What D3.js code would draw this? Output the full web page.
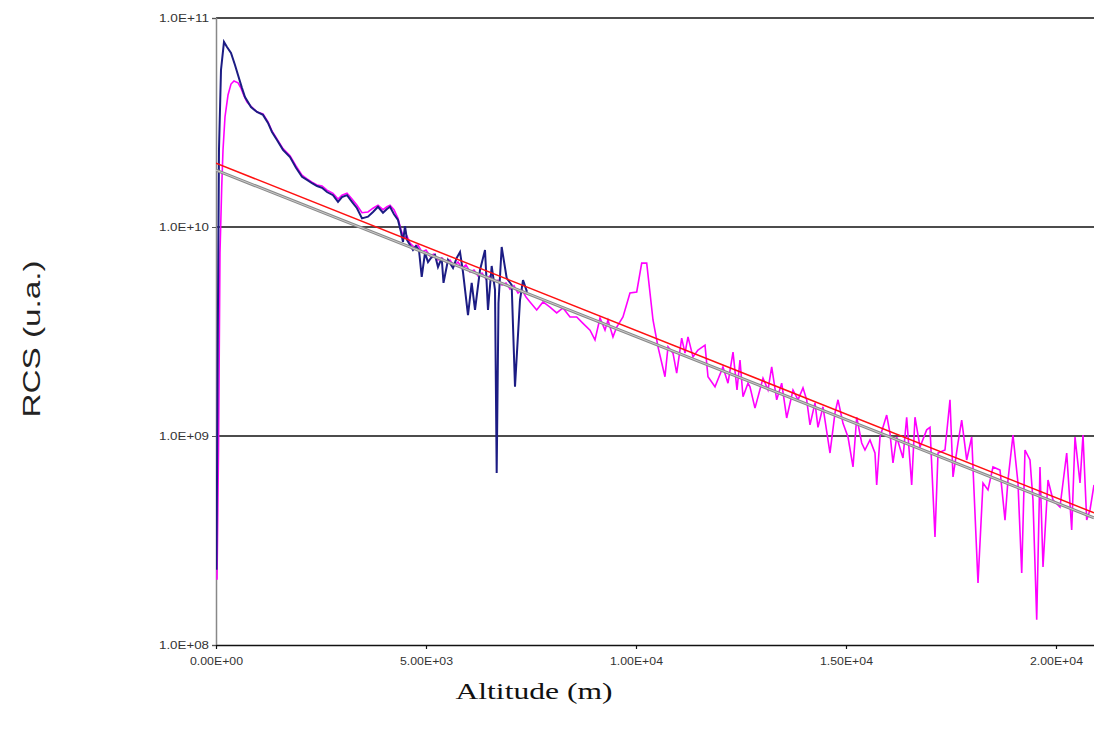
<!DOCTYPE html>
<html>
<head>
<meta charset="utf-8">
<script src="https://cdn.jsdelivr.net/npm/d3@7"></script>
<style>
  body { margin: 0; background: #fff; }
</style>
</head>
<body>
<script>
// ---------------------- data ----------------------
var xTicks = [0, 5000, 10000, 15000, 20000];
var yTicks = [1e8, 1e9, 1e10, 1e11];

// navy profile: altitude (m), RCS (u.a.)
var navyAlt = [12, 48, 71, 119, 190, 262, 357, 452, 524, 619, 690, 833, 976, 1119, 1238, 1333, 1452, 1595, 1762, 1905,
  2048, 2167, 2286, 2405, 2524, 2643, 2786, 2905, 3000, 3119, 3238, 3357, 3476, 3619, 3738, 3857, 3976, 4071, 4143, 4238,
  4333, 4405, 4452, 4500, 4548, 4619, 4690, 4762, 4833, 4898, 4976, 5048, 5119, 5214, 5286, 5374, 5417, 5524, 5643, 5731,
  5810, 5881, 6000, 6088, 6167, 6286, 6405, 6476, 6564, 6643, 6683, 6726, 6802, 6921, 7040, 7119, 7238, 7310, 7405];
var navyRcs = [2.29e8, 4.47e9, 2.34e10, 5.64e10, 7.68e10, 7.26e10, 6.80e10, 5.96e10, 5.34e10, 4.62e10, 4.19e10, 3.75e10, 3.55e10, 3.44e10, 3.15e10, 2.85e10, 2.61e10, 2.34e10, 2.16e10, 1.92e10,
  1.74e10, 1.68e10, 1.62e10, 1.57e10, 1.54e10, 1.47e10, 1.42e10, 1.32e10, 1.39e10, 1.42e10, 1.32e10, 1.23e10, 1.10e10, 1.12e10, 1.18e10, 1.25e10, 1.17e10, 1.22e10, 1.25e10, 1.15e10,
  1.08e10, 9.46e9, 8.48e9, 1.01e10, 8.67e9, 8.20e9, 7.76e9, 8.11e9, 7.76e9, 5.77e9, 7.51e9, 6.80e9, 7.11e9, 7.35e9, 6.44e9, 7.11e9, 5.40e9, 6.95e9, 6.37e9, 7.11e9,
  7.59e9, 6.09e9, 3.79e9, 5.40e9, 4.01e9, 6.23e9, 7.76e9, 4.01e9, 6.51e9, 5.00e9, 6.65e8, 4.33e9, 8.02e9, 5.70e9, 5.28e9, 1.72e9, 4.47e9, 5.57e9, 4.89e9];

// magenta profile: altitude (m), RCS (u.a.)
var magAlt = [24, 60, 95, 136, 167, 214, 286, 357, 429, 524, 595, 667, 738, 833, 976, 1119, 1238, 1333, 1452, 1595,
  1762, 1905, 2048, 2167, 2286, 2405, 2524, 2643, 2786, 2905, 3000, 3119, 3238, 3357, 3476, 3619, 3738, 3857, 3976, 4071,
  4143, 4238, 4333, 4405, 4476, 4548, 4619, 4714, 4810, 4905, 5000, 5095, 5191, 5286, 5381, 5476, 5571, 5667, 5762, 5857,
  5952, 6048, 6143, 6238, 6333, 6429, 6524, 6619, 6714, 6810, 6905, 7000, 7095, 7190, 7286, 7381, 7476, 7636, 7786, 7952,
  8112, 8262, 8429, 8588, 8738, 8905, 9024, 9143, 9262, 9333, 9452, 9541, 9690, 9857, 10017, 10136, 10255, 10405, 10524, 10690,
  10762, 10881, 10969, 11088, 11167, 11238, 11357, 11476, 11643, 11714, 11881, 12071, 12190, 12310, 12405, 12476, 12548, 12667, 12714, 12833,
  13024, 13143, 13231, 13350, 13469, 13588, 13738, 13857, 13976, 14064, 14143, 14262, 14333, 14452, 14619, 14738, 14810, 14929, 15048, 15167,
  15255, 15374, 15452, 15571, 15690, 15731, 15810, 15969, 16048, 16119, 16207, 16357, 16445, 16564, 16643, 16762, 16921, 17000, 17119, 17191,
  17357, 17476, 17548, 17667, 17755, 17874, 17993, 18143, 18262, 18381, 18500, 18667, 18786, 18857, 18976, 19095, 19184, 19262, 19381, 19452,
  19541, 19619, 19691, 19810, 19929, 20095, 20255, 20374, 20453, 20572, 20643, 20731, 20810, 20905];
var magRcs = [2.05e8, 8.57e8, 7.51e9, 1.55e10, 2.34e10, 3.36e10, 4.28e10, 4.83e10, 5.00e10, 4.90e10, 4.62e10, 4.24e10, 3.96e10, 3.78e10, 3.55e10, 3.48e10, 3.18e10, 2.88e10, 2.64e10, 2.37e10,
  2.19e10, 1.96e10, 1.77e10, 1.70e10, 1.64e10, 1.59e10, 1.57e10, 1.50e10, 1.45e10, 1.36e10, 1.42e10, 1.45e10, 1.36e10, 1.27e10, 1.17e10, 1.18e10, 1.23e10, 1.27e10, 1.21e10, 1.25e10,
  1.27e10, 1.21e10, 1.10e10, 9.68e9, 8.86e9, 9.05e9, 8.38e9, 8.02e9, 8.20e9, 7.59e9, 7.76e9, 7.26e9, 7.43e9, 6.95e9, 7.11e9, 6.80e9, 6.95e9, 6.51e9, 6.80e9, 6.37e9,
  6.59e9, 6.09e9, 6.23e9, 5.83e9, 6.02e9, 5.64e9, 5.83e9, 5.46e9, 5.57e9, 5.28e9, 5.40e9, 5.05e9, 5.23e9, 4.83e9, 5.00e9, 4.62e9, 4.38e9, 4.01e9, 4.38e9, 4.14e9,
  3.88e9, 4.10e9, 3.71e9, 3.71e9, 3.46e9, 3.21e9, 2.88e9, 3.67e9, 3.21e9, 3.59e9, 2.98e9, 3.32e9, 3.71e9, 4.83e9, 4.89e9, 6.72e9, 6.72e9, 3.59e9, 2.67e9, 1.92e9,
  2.67e9, 2.49e9, 2.00e9, 2.94e9, 2.49e9, 2.98e9, 2.39e9, 2.58e9, 2.72e9, 1.92e9, 1.72e9, 2.14e9, 1.79e9, 2.52e9, 1.66e9, 2.31e9, 1.54e9, 1.79e9, 1.72e9, 1.36e9,
  1.89e9, 1.66e9, 2.14e9, 1.49e9, 1.79e9, 1.22e9, 1.66e9, 1.49e9, 1.70e9, 1.49e9, 1.13e9, 1.44e9, 1.10e9, 1.38e9, 8.29e8, 1.29e9, 1.49e9, 1.15e9, 9.89e8, 7.11e8,
  1.23e9, 9.26e8, 8.57e8, 9.57e8, 8.29e8, 5.83e8, 9.89e8, 1.26e9, 1.03e9, 7.43e8, 9.89e8, 7.85e8, 1.23e9, 5.83e8, 1.23e9, 8.86e8, 1.07e9, 1.10e9, 3.29e8, 8.29e8,
  8.57e8, 1.49e9, 6.37e8, 9.26e8, 1.19e9, 7.68e8, 9.89e8, 1.98e8, 5.96e8, 5.52e8, 7.11e8, 6.88e8, 3.96e8, 6.16e8, 1.01e9, 5.96e8, 2.21e8, 8.57e8, 7.68e8, 4.94e8,
  1.32e8, 7.11e8, 2.36e8, 6.16e8, 4.94e8, 4.57e8, 8.29e8, 3.55e8, 9.89e8, 5.96e8, 1.01e9, 3.96e8, 4.43e8, 5.83e8];

// exponential fits (straight on log axis)
var fitAlt = [0, 20905];
var redFit = [2.02e10, 4.29e8];
var grayFit = [1.87e10, 4.06e8];

// ---------------------- layout ----------------------
var W = 1094, H = 733;
var plotLeft = 216, plotRight = 1094, plotTop = 18, plotBottom = 645;

var svg = d3.select("body")
     .append("svg")
     .attr("width", W)
     .attr("height", H)
     .style("font-family", "'Liberation Sans', Arial, sans-serif");

var x = d3.scaleLinear().domain([0, 20905]).range([plotLeft, plotRight]);
var y = d3.scaleLog().domain([1e8, 1e11]).range([plotBottom, plotTop]);

function expLabel(v, digits) {
  var s = v.toExponential(digits).toUpperCase();
  var parts = s.split("E");
  var sign = parts[1].charAt(0);
  var ex = parts[1].slice(1);
  if (ex.length < 2) ex = "0" + ex;
  return parts[0] + "E" + sign + ex;
}

svg.append("clipPath").attr("id", "plot")
     .append("rect")
     .attr("x", plotLeft).attr("y", 0)
     .attr("width", plotRight - plotLeft).attr("height", plotBottom + 2);

// horizontal gridlines
svg.append("g").selectAll("line")
     .data(yTicks.slice(1))
     .enter()
     .append("line")
     .attr("x1", plotLeft).attr("x2", plotRight)
     .attr("y1", function(d) { return y(d); })
     .attr("y2", function(d) { return y(d); })
     .attr("stroke", "#111")
     .attr("stroke-width", 1.5);

// left axis
var yAxis = svg.append("g")
     .attr("transform", "translate(" + plotLeft + ",0)")
     .call(d3.axisLeft(y).tickValues(yTicks).tickSize(4).tickFormat(function(d) { return expLabel(d, 1); }));
yAxis.select(".domain").attr("stroke", "#888").attr("stroke-width", 1.5);
yAxis.selectAll(".tick line").attr("stroke", "#555");
yAxis.selectAll(".tick text")
     .attr("x", -7)
     .attr("dy", "0.35em")
     .attr("fill", "#333")
     .style("font-size", "10px")
     .attr("textLength", 50)
     .attr("lengthAdjust", "spacingAndGlyphs");

// bottom axis
var xAxis = svg.append("g")
     .attr("transform", "translate(0," + plotBottom + ")")
     .call(d3.axisBottom(x).tickValues(xTicks).tickSize(4).tickSizeOuter(0).tickFormat(function(d) { return expLabel(d, 2); }));
xAxis.select(".domain").attr("stroke", "#111").attr("stroke-width", 1.5);
xAxis.selectAll(".tick line").attr("stroke", "#111").attr("stroke-width", 1.2);
xAxis.selectAll(".tick text")
     .attr("y", 13)
     .attr("fill", "#333")
     .style("font-size", "10px")
     .attr("textLength", 53)
     .attr("lengthAdjust", "spacingAndGlyphs");

// ---------------------- series ----------------------
var line = d3.line()
     .x(function(d) { return x(d[0]); })
     .y(function(d) { return y(d[1]); });

var plot = svg.append("g").attr("clip-path", "url(#plot)");

plot.append("path")
     .attr("d", line(d3.zip(magAlt, magRcs)))
     .attr("fill", "none")
     .attr("stroke", "#ff00ff")
     .attr("stroke-width", 1.6);

plot.append("path")
     .attr("d", line(d3.zip(navyAlt, navyRcs)))
     .attr("fill", "none")
     .attr("stroke", "#1c1c84")
     .attr("stroke-width", 2);

plot.append("path")
     .attr("d", line(d3.zip(fitAlt, grayFit)))
     .attr("fill", "none")
     .attr("stroke", "#8a8a8a")
     .attr("stroke-width", 3);
plot.append("path")
     .attr("d", line(d3.zip(fitAlt, grayFit)))
     .attr("fill", "none")
     .attr("stroke", "#dcdcdc")
     .attr("stroke-width", 0.8);

plot.append("path")
     .attr("d", line(d3.zip(fitAlt, redFit)))
     .attr("fill", "none")
     .attr("stroke", "#ff1010")
     .attr("stroke-width", 1.5);

// ---------------------- titles ----------------------
svg.append("text")
     .text("Altitude (m)")
     .attr("x", 534)
     .attr("y", 699)
     .attr("text-anchor", "middle")
     .style("font-family", "'Liberation Serif', 'Times New Roman', serif")
     .style("font-size", "24px")
     .attr("fill", "#111")
     .attr("textLength", 157)
     .attr("lengthAdjust", "spacingAndGlyphs");

svg.append("text")
     .text("RCS (u.a.)")
     .attr("transform", "translate(40,339) rotate(-90)")
     .attr("text-anchor", "middle")
     .style("font-size", "24px")
     .attr("fill", "#222")
     .attr("textLength", 157)
     .attr("lengthAdjust", "spacingAndGlyphs");
</script>
</body>
</html>
